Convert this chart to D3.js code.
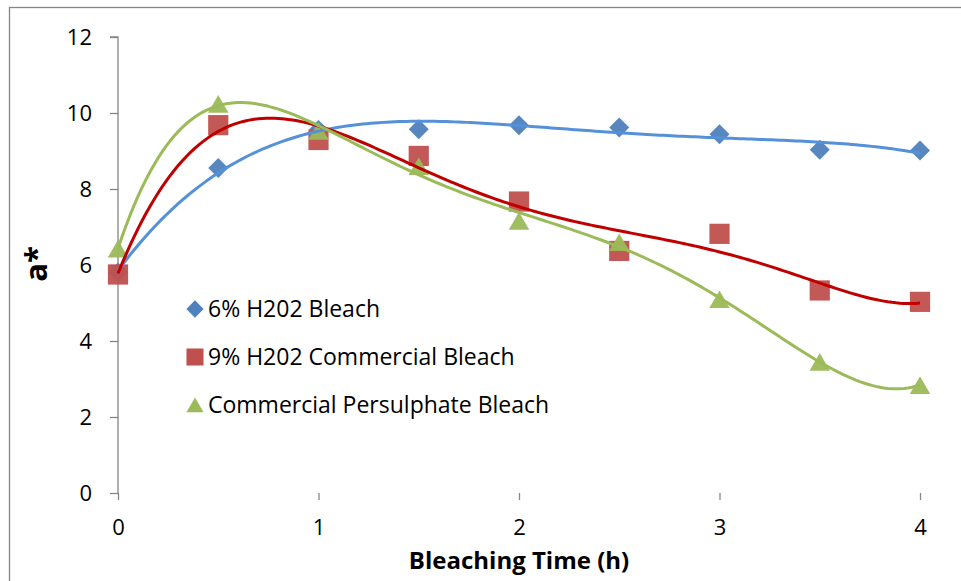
<!DOCTYPE html>
<html><head><meta charset="utf-8">
<script src="https://cdn.jsdelivr.net/npm/d3@7"></script>
<style>body{margin:0;background:#fff}svg{display:block}text{font-family:"Open Sans",sans-serif}</style>
</head><body><svg id="c" width="961" height="581"></svg>
<script>
const times = [0, 0.5, 1, 1.5, 2, 2.5, 3, 3.5, 4];
const seriesNames = ["6% H202 Bleach", "9% H202 Commercial Bleach", "Commercial Persulphate Bleach"];
const blueVals = [5.80, 8.55, 9.55, 9.57, 9.68, 9.62, 9.44, 9.03, 9.01];
const redVals = [5.75, 9.68, 9.29, 8.87, 7.67, 6.37, 6.82, 5.33, 5.03];
const greenVals = [6.43, 10.24, 9.53, 8.60, 7.16, 6.60, 5.10, 3.45, 2.84];
const trendOrders = [4, 6, 6];
const yTicks = [0, 2, 4, 6, 8, 10, 12];
const xTicks = [0, 1, 2, 3, 4];

const svg = d3.select("#c");
const x = d3.scaleLinear().domain([0, 4]).range([118, 920]);
const y = d3.scaleLinear().domain([0, 12]).range([493, 37]);
const axisColor = "#868686";

svg.append("rect").attr("x", 9.5).attr("y", 7.5).attr("width", 960).attr("height", 600)
  .attr("fill", "none").attr("stroke", axisColor).attr("stroke-width", 1.3);

const yAxis = d3.axisLeft(y).tickValues(yTicks).tickSize(8).tickPadding(18).tickFormat(d3.format("d"));
const gy = svg.append("g").attr("transform", `translate(${x(0)},0)`).call(yAxis);
const xAxis = d3.axisBottom(x).tickValues(xTicks).tickSize(7).tickPadding(19).tickFormat(d3.format("d"));
const gx = svg.append("g").attr("transform", `translate(0,${y(0)})`).call(xAxis);
[gx, gy].forEach(g => {
  g.select(".domain").attr("stroke", axisColor).attr("stroke-width", 1.3);
  g.selectAll(".tick line").attr("stroke", axisColor).attr("stroke-width", 1.3);
  g.selectAll(".tick text").attr("fill", "#000").style("font-size", "22px").style("font-family", "'Open Sans',sans-serif");
});
gy.select(".domain").attr("d", `M-8,${y(12)}H0V${y(0)}`);
gx.select(".domain").attr("d", `M${x(0)},${y(0)}H${x(4)}V${y(0)+7}`);

svg.append("text").attr("x", 519).attr("y", 569).attr("text-anchor", "middle")
  .style("font-size", "24px").style("font-weight", "bold").text("Bleaching Time (h)");
svg.append("text").attr("transform", "translate(47,264) rotate(-90)").attr("text-anchor", "middle")
  .style("font-size", "31px").style("font-weight", "bold").text("a*");

function polyfit(xs, ys, n) {
  const m = n + 1;
  const A = Array.from({length: m}, () => new Array(m + 1).fill(0));
  for (let k = 0; k < xs.length; k++) {
    const p = [];
    for (let i = 0; i <= 2 * n; i++) p.push(Math.pow(xs[k], i));
    for (let i = 0; i < m; i++) {
      for (let j = 0; j < m; j++) A[i][j] += p[i + j];
      A[i][m] += ys[k] * p[i];
    }
  }
  for (let c = 0; c < m; c++) {
    let piv = c;
    for (let r = c + 1; r < m; r++) if (Math.abs(A[r][c]) > Math.abs(A[piv][c])) piv = r;
    [A[c], A[piv]] = [A[piv], A[c]];
    for (let r = 0; r < m; r++) {
      if (r === c) continue;
      const f = A[r][c] / A[c][c];
      for (let j = c; j <= m; j++) A[r][j] -= f * A[c][j];
    }
  }
  return A.map((row, i) => row[m] / row[i]);
}
const evalPoly = (co, t) => co.reduce((s, c, i) => s + c * Math.pow(t, i), 0);

const series = [
  {name: seriesNames[0], vals: blueVals, order: trendOrders[0], marker: "#4F81BD", line: "#5591D9", shape: d3.symbolDiamond2, size: 255, lsize: 190, dy: 0},
  {name: seriesNames[1], vals: redVals, order: trendOrders[1], marker: "#C0504D", line: "#C00000", shape: d3.symbolSquare2, size: 520, lsize: 370, dy: 0},
  {name: seriesNames[2], vals: greenVals, order: trendOrders[2], marker: "#9BBB59", line: "#9BBB59", shape: d3.symbolTriangle2, size: 300, lsize: 210, dy: 3}
];
series.forEach(s => {
  svg.append("g").selectAll("path").data(times).join("path")
    .attr("d", d3.symbol().type(s.shape).size(s.size)())
    .attr("transform", (t, i) => `translate(${x(t)},${y(s.vals[i]) + s.dy})`)
    .attr("fill", s.marker).attr("opacity", 0.95);
});
const samples = d3.range(0, 4.0001, 0.02);
const line = d3.line().x(d => x(d[0])).y(d => y(d[1]));
series.forEach(s => {
  const co = polyfit(times, s.vals, s.order);
  svg.append("path").datum(samples.map(t => [t, evalPoly(co, t)]))
    .attr("d", line).attr("fill", "none").attr("stroke", s.line).attr("stroke-width", 3);
});
const lg = svg.append("g");
series.forEach((s, i) => {
  const ly = 309 + i * 48;
  lg.append("path").attr("d", d3.symbol().type(s.shape).size(s.lsize)())
    .attr("transform", `translate(195,${ly + s.dy * 0.8})`).attr("fill", s.marker);
  lg.append("text").attr("x", 208).attr("y", ly + 8).style("font-size", "23px").text(s.name);
});
</script></body></html>
